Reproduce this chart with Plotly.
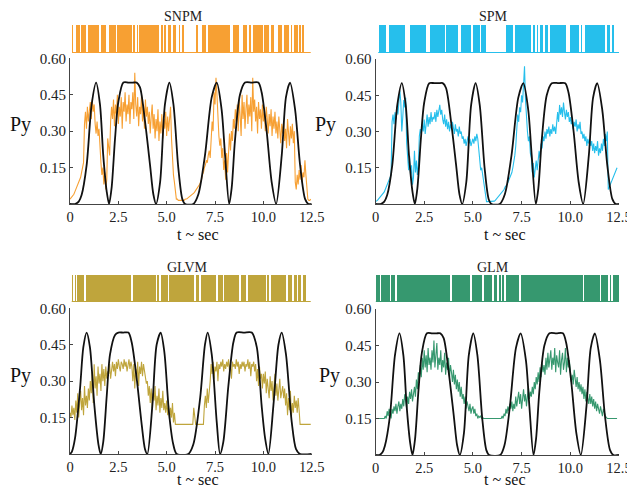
import plotly.graph_objects as go

# ---------------- data ----------------
t = [round(i * 0.05, 2) for i in range(250)]  # 0.00 .. 12.45 s

snpm = [
    0.02, 0.025, 0.03, 0.035, 0.04, 0.05, 0.06, 0.07, 0.08, 0.09, 0.10, 0.11, 0.13, 0.15, 0.17, 0.33, 0.38, 0.31, 0.40, 0.34,
    0.37, 0.42, 0.35, 0.43, 0.38, 0.41, 0.33, 0.29, 0.34, 0.28, 0.31, 0.22, 0.17, 0.12, 0.15, 0.08, 0.13, 0.06, 0.10, 0.27,
    0.24, 0.20, 0.34, 0.40, 0.35, 0.43, 0.32, 0.41, 0.37, 0.45, 0.33, 0.40, 0.36, 0.44, 0.31, 0.42, 0.38, 0.46, 0.34, 0.41,
    0.37, 0.45, 0.33, 0.42, 0.39, 0.46, 0.35, 0.54, 0.41, 0.36, 0.44, 0.32, 0.40, 0.37, 0.45, 0.34, 0.41, 0.31, 0.43, 0.36,
    0.40, 0.33, 0.38, 0.29, 0.36, 0.41, 0.31, 0.37, 0.27, 0.35, 0.30, 0.39, 0.26, 0.34, 0.29, 0.37, 0.27, 0.35, 0.31, 0.38,
    0.28, 0.36, 0.30, 0.38, 0.40, 0.27, 0.17, 0.12, 0.09, 0.05, 0.02, 0.02, 0.015, 0.015, 0.015, 0.015, 0.015, 0.015, 0.015, 0.02,
    0.02, 0.022, 0.025, 0.028, 0.03, 0.033, 0.036, 0.04, 0.045, 0.05, 0.055, 0.06, 0.068, 0.075, 0.08, 0.09, 0.10, 0.12, 0.13, 0.15,
    0.16, 0.18, 0.17, 0.20, 0.22, 0.19, 0.27, 0.34, 0.30, 0.46, 0.41, 0.52, 0.45, 0.34, 0.28, 0.24, 0.27, 0.19, 0.23, 0.14,
    0.18, 0.10, 0.21, 0.13, 0.24, 0.29, 0.22, 0.30, 0.26, 0.35, 0.31, 0.39, 0.34, 0.41, 0.30, 0.43, 0.36, 0.28, 0.45, 0.35,
    0.42, 0.31, 0.39, 0.45, 0.33, 0.41, 0.36, 0.44, 0.30, 0.52, 0.38, 0.43, 0.34, 0.40, 0.29, 0.42, 0.35, 0.39, 0.31, 0.41,
    0.34, 0.38, 0.30, 0.40, 0.35, 0.29, 0.37, 0.32, 0.39, 0.28, 0.36, 0.31, 0.38, 0.29, 0.34, 0.27, 0.36, 0.30, 0.25, 0.33,
    0.29, 0.34, 0.26, 0.31, 0.23, 0.35, 0.28, 0.24, 0.32, 0.27, 0.33, 0.25, 0.30, 0.09, 0.06, 0.12, 0.08, 0.14, 0.10, 0.16,
    0.09, 0.13, 0.11, 0.18, 0.12, 0.07, 0.02, 0.015, 0.015, 0.02,
]

spm = [
    0.01, 0.012, 0.015, 0.02, 0.025, 0.03, 0.035, 0.04, 0.045, 0.05, 0.06, 0.07, 0.08, 0.09, 0.10, 0.11, 0.12, 0.34, 0.37, 0.33,
    0.38, 0.35, 0.40, 0.37, 0.44, 0.47, 0.42, 0.30, 0.36, 0.43, 0.40, 0.44, 0.25, 0.18, 0.14, 0.20, 0.12, 0.16, 0.08, 0.11,
    0.22, 0.13, 0.18, 0.12, 0.16, 0.28, 0.31, 0.29, 0.33, 0.30, 0.35, 0.29, 0.34, 0.37, 0.32, 0.36, 0.33, 0.38, 0.34, 0.36,
    0.35, 0.38, 0.34, 0.39, 0.36, 0.40, 0.41, 0.37, 0.39, 0.35, 0.33, 0.37, 0.32, 0.35, 0.31, 0.34, 0.30, 0.33, 0.31, 0.34,
    0.32, 0.29, 0.33, 0.30, 0.31, 0.28, 0.32, 0.29, 0.30, 0.27, 0.28, 0.25, 0.27, 0.24, 0.26, 0.28, 0.25, 0.27, 0.24, 0.26,
    0.27, 0.25, 0.28, 0.26, 0.29, 0.27, 0.22, 0.17, 0.14, 0.15, 0.12, 0.08, 0.05, 0.02, 0.01, 0.01, 0.01, 0.01, 0.01, 0.01,
    0.01, 0.01, 0.012, 0.015, 0.02, 0.025, 0.03, 0.035, 0.04, 0.045, 0.05, 0.055, 0.06, 0.07, 0.075, 0.08, 0.09, 0.10, 0.11, 0.12,
    0.13, 0.15, 0.17, 0.20, 0.24, 0.32, 0.37, 0.34, 0.40, 0.38, 0.45, 0.42, 0.48, 0.57, 0.43, 0.35, 0.30, 0.26, 0.28, 0.21,
    0.19, 0.13, 0.17, 0.11, 0.15, 0.18, 0.14, 0.20, 0.22, 0.19, 0.25, 0.23, 0.28, 0.26, 0.30, 0.27, 0.31, 0.29, 0.32, 0.28,
    0.31, 0.29, 0.33, 0.30, 0.32, 0.29, 0.35, 0.38, 0.34, 0.41, 0.37, 0.40, 0.36, 0.42, 0.38, 0.35, 0.39, 0.36, 0.38, 0.34,
    0.36, 0.33, 0.35, 0.31, 0.34, 0.32, 0.35, 0.30, 0.33, 0.31, 0.34, 0.29, 0.30, 0.27, 0.29, 0.26, 0.28, 0.24, 0.27, 0.25,
    0.27, 0.24, 0.26, 0.22, 0.25, 0.21, 0.24, 0.22, 0.26, 0.20, 0.23, 0.21, 0.25, 0.22, 0.27, 0.24, 0.29, 0.26, 0.30, 0.06,
    0.07, 0.08, 0.09, 0.10, 0.11, 0.12, 0.13, 0.14, 0.15, None,
]

glvm = [
    0.17, 0.15, 0.20, 0.16, 0.19, 0.14, 0.22, 0.17, 0.25, 0.15, 0.21, 0.26, 0.18, 0.23, 0.16, 0.28, 0.20, 0.24, 0.19, 0.27,
    0.22, 0.30, 0.25, 0.34, 0.21, 0.37, 0.27, 0.32, 0.24, 0.36, 0.29, 0.33, 0.26, 0.37, 0.30, 0.35, 0.28, 0.36, 0.31, 0.34,
    0.33, 0.37, 0.31, 0.36, 0.38, 0.34, 0.37, 0.32, 0.38, 0.35, 0.39, 0.36, 0.34, 0.38, 0.37, 0.35, 0.39, 0.36, 0.38, 0.34,
    0.37, 0.39, 0.35, 0.38, 0.36, 0.30, 0.37, 0.27, 0.35, 0.31, 0.38, 0.28, 0.36, 0.33, 0.38, 0.32, 0.37, 0.34, 0.31, 0.29,
    0.30, 0.24, 0.28, 0.21, 0.27, 0.19, 0.25, 0.22, 0.28, 0.18, 0.24, 0.20, 0.27, 0.17, 0.23, 0.19, 0.26, 0.18, 0.21, 0.17,
    0.22, 0.16, 0.20, 0.14, 0.19, 0.15, 0.21, 0.13, 0.17, 0.122, 0.122, 0.122, 0.122, 0.122, 0.122, 0.122, 0.122, 0.122, 0.122, 0.122,
    0.122, 0.122, 0.122, 0.122, 0.122, 0.122, 0.122, 0.122, 0.19, 0.14, 0.122, 0.122, 0.122, 0.122, 0.122, 0.122, 0.122, 0.122, 0.122, 0.20,
    0.24, 0.19, 0.27, 0.21, 0.25, 0.30, 0.37, 0.33, 0.38, 0.31, 0.36, 0.34, 0.38, 0.30, 0.37, 0.35, 0.38, 0.36, 0.39, 0.34,
    0.37, 0.35, 0.38, 0.36, 0.39, 0.34, 0.37, 0.31, 0.38, 0.36, 0.37, 0.35, 0.39, 0.36, 0.38, 0.33, 0.37, 0.35, 0.38, 0.36,
    0.38, 0.34, 0.37, 0.36, 0.39, 0.35, 0.38, 0.32, 0.37, 0.36, 0.38, 0.34, 0.37, 0.30, 0.35, 0.28, 0.36, 0.31, 0.33, 0.27,
    0.33, 0.29, 0.34, 0.25, 0.31, 0.27, 0.23, 0.32, 0.26, 0.30, 0.22, 0.28, 0.33, 0.24, 0.29, 0.22, 0.27, 0.31, 0.23, 0.26,
    0.28, 0.23, 0.27, 0.20, 0.25, 0.16, 0.23, 0.18, 0.26, 0.15, 0.21, 0.17, 0.24, 0.19, 0.22, 0.17, 0.23, 0.18, 0.122, 0.122,
    0.122, 0.122, 0.122, 0.122, 0.122, 0.122, 0.122, 0.122, 0.122, 0.122,
]

glm = [
    0.15, 0.15, 0.15, 0.15, 0.15, 0.15, 0.15, 0.15, 0.15, 0.15, 0.16, 0.15, 0.18, 0.16, 0.19, 0.17, 0.15, 0.19, 0.17, 0.20,
    0.18, 0.21, 0.17, 0.20, 0.22, 0.18, 0.21, 0.19, 0.23, 0.20, 0.25, 0.22, 0.19, 0.24, 0.21, 0.26, 0.23, 0.27, 0.22, 0.25,
    0.28, 0.24, 0.31, 0.27, 0.34, 0.30, 0.37, 0.32, 0.40, 0.35, 0.43, 0.36, 0.41, 0.34, 0.44, 0.37, 0.40, 0.35, 0.43, 0.38,
    0.47, 0.36, 0.42, 0.46, 0.35, 0.40, 0.37, 0.43, 0.34, 0.39, 0.36, 0.42, 0.33, 0.38, 0.35, 0.40, 0.32, 0.37, 0.34, 0.30,
    0.35, 0.29, 0.33, 0.27, 0.31, 0.26, 0.30, 0.24, 0.28, 0.23, 0.25, 0.21, 0.24, 0.19, 0.22, 0.20, 0.18, 0.21, 0.17, 0.19,
    0.20, 0.17, 0.19, 0.16, 0.17, 0.15, 0.16, 0.155, 0.16, 0.15, 0.155, 0.15, 0.15, 0.15, 0.15, 0.15, 0.15, 0.15, 0.15, 0.15,
    0.15, 0.15, 0.15, 0.15, 0.15, 0.15, 0.15, 0.15, 0.15, 0.15, 0.16, 0.15, 0.17, 0.16, 0.19, 0.17, 0.20, 0.18, 0.21, 0.19,
    0.22, 0.18, 0.21, 0.19, 0.24, 0.20, 0.23, 0.26, 0.21, 0.25, 0.19, 0.24, 0.27, 0.22, 0.25, 0.20, 0.24, 0.28, 0.23, 0.26,
    0.24, 0.28, 0.25, 0.30, 0.27, 0.32, 0.29, 0.34, 0.30, 0.36, 0.32, 0.38, 0.34, 0.37, 0.33, 0.40, 0.35, 0.42, 0.36, 0.39,
    0.43, 0.35, 0.40, 0.37, 0.44, 0.34, 0.41, 0.38, 0.36, 0.43, 0.33, 0.39, 0.42, 0.35, 0.38, 0.44, 0.34, 0.40, 0.36, 0.39,
    0.34, 0.30, 0.33, 0.29, 0.35, 0.31, 0.28, 0.32, 0.27, 0.30, 0.26, 0.29, 0.25, 0.28, 0.23, 0.27, 0.22, 0.26, 0.24, 0.21,
    0.25, 0.21, 0.24, 0.20, 0.23, 0.19, 0.22, 0.18, 0.21, 0.19, 0.17, 0.20, 0.18, 0.16, 0.19, 0.17, 0.16, 0.155, 0.15, 0.15,
    0.15, 0.15, 0.15, 0.15, 0.15, 0.15, 0.15, 0.15, 0.15, None,
]

# stimulus (black) curves, key points
stim_top_t = [0, 0.26, 0.45, 0.6, 0.86, 1.12, 1.35, 1.55, 1.72, 1.9, 2.02,
              2.15, 2.33, 2.5, 2.76, 3.02, 3.25, 3.45, 3.62, 3.88, 4.14, 4.31, 4.45,
              4.66, 4.91, 5.14, 5.35, 5.6, 5.81, 5.95, 6.38,
              6.64, 6.98, 7.33, 7.59, 7.84, 8.02, 8.23,
              8.36, 8.53, 8.79, 9.05, 9.4, 9.74, 9.91, 10.17, 10.43, 10.66,
              10.95, 11.17, 11.38, 11.64, 11.9, 12.16, 12.33, 12.5]
stim_top_y = [0, 0, 0.01, 0.037, 0.16, 0.41, 0.5, 0.41, 0.2, 0.05, 0,
              0.065, 0.27, 0.42, 0.5, 0.5, 0.5, 0.5, 0.48, 0.34, 0.16, 0.04, 0,
              0.09, 0.41, 0.5, 0.41, 0.15, 0.02, 0, 0,
              0.04, 0.2, 0.44, 0.5, 0.39, 0.2, 0,
              0.065, 0.26, 0.45, 0.5, 0.5, 0.5, 0.46, 0.3, 0.09, 0,
              0.2, 0.44, 0.5, 0.39, 0.16, 0.02, 0, 0]

stim_bl_t = [0, 0.1, 0.26, 0.52, 0.69, 0.86, 1.03, 1.26, 1.47, 1.59,
             1.72, 1.9, 2.07, 2.33, 2.5, 2.75, 3.02, 3.19, 3.45, 3.71, 3.88, 4.0,
             4.26, 4.48, 4.69, 4.88, 5.12, 5.34, 5.52, 6.12,
             6.38, 6.73, 6.98, 7.12, 7.33, 7.59, 7.76,
             7.93, 8.19, 8.45, 8.62, 9.0, 9.4, 9.66, 9.91, 10.09, 10.26,
             10.52, 10.78, 10.95, 11.17, 11.47, 11.69, 11.9, 12.5]
stim_bl_y = [0, 0.01, 0.065, 0.27, 0.44, 0.5, 0.44, 0.2, 0.04, 0,
             0.05, 0.24, 0.41, 0.49, 0.5, 0.5, 0.5, 0.46, 0.31, 0.12, 0.02, 0,
             0.2, 0.45, 0.5, 0.42, 0.17, 0.04, 0, 0,
             0.04, 0.23, 0.45, 0.5, 0.41, 0.13, 0,
             0.05, 0.28, 0.46, 0.5, 0.5, 0.5, 0.44, 0.2, 0.065, 0,
             0.2, 0.45, 0.5, 0.41, 0.13, 0.02, 0, 0]

stim_br_t = [0, 0.2, 0.35, 0.48, 0.74, 1.0, 1.23, 1.43, 1.6, 1.78, 1.9,
             2.03, 2.21, 2.38, 2.64, 2.9, 3.13, 3.33, 3.5, 3.76, 4.02, 4.19, 4.33,
             4.54, 4.79, 5.02, 5.23, 5.48, 5.69, 5.83, 6.4,
             6.62, 6.9, 7.21, 7.45, 7.72, 7.9, 8.11,
             8.24, 8.41, 8.67, 8.93, 9.28, 9.62, 9.79, 10.05, 10.31, 10.54,
             10.83, 11.05, 11.26, 11.52, 11.78, 12.04, 12.21, 12.5]
stim_br_y = stim_top_y

# spike rasters: band extent, thin white gaps (centres), wide white gaps (start, end)
snpm_band = [0.12, 12.08]
snpm_thin = [0.21, 0.29, 0.55, 0.88, 1.55, 1.9, 1.98, 2.41, 3.24, 3.41, 3.54, 4.66, 4.83, 5.0, 5.26,
             7.07, 8.8, 8.88, 9.22, 9.4, 10.0, 10.34, 10.6, 10.69, 11.0, 11.38, 11.55, 11.81, 11.98]
snpm_wide_s = [5.48, 5.68, 5.9, 6.64, 8.3]
snpm_wide_e = [5.62, 5.79, 6.52, 6.81, 8.42]

spm_band = [0.14, 12.2]
spm_thin = [0.56, 0.65, 1.51, 1.59, 1.68, 2.62, 2.71, 3.56, 4.25, 4.3, 4.94, 5.37,
            7.08, 8.02, 8.23, 8.37, 8.62, 8.88, 9.82, 9.91, 10.47, 10.6, 10.68, 11.8, 12.05]
spm_wide_s = [5.66]
spm_wide_e = [6.68]

glvm_band = [0.09, 12.21]
glvm_thin = [0.21, 0.34, 0.78, 3.19, 4.48, 4.66, 5.09, 6.47, 6.73, 7.59, 7.93, 8.79, 9.14,
             10.17, 10.35, 11.21, 11.55, 11.76, 11.99]
glvm_wide_s = []
glvm_wide_e = []

glm_band = [0.01, 12.48]
glm_thin = [0.23, 0.75, 1.04, 3.85, 4.89, 5.49, 6.01, 6.27, 6.44, 6.61, 7.39, 10.66, 11.53, 11.96, 12.13]
glm_wide_s = []
glm_wide_e = []

x_ticks = [0, 2.5, 5, 7.5, 10, 12.5]
x_tick_text = ["0", "2.5", "5.0", "7.5", "10.0", "12.5"]
y_ticks = [0.15, 0.30, 0.45, 0.60]
y_tick_text = ["0.15", "0.30", "0.45", "0.60"]

# ---------------- figure ----------------
OFF = 8                      # page body margin of the browser
W, H = 635 - OFF, 489 - OFF  # figure size so that it fills the window
FONT = "Liberation Serif"
AX = "#444444"


def fx(px):
    return (px - OFF) / W


def fy(py):
    return 1 - (py - OFF) / H


panels = [
    dict(name="SNPM", color="#F7A033", data=snpm, st=stim_top_t, sy=stim_top_y,
         band=snpm_band, thin=snpm_thin, ws=snpm_wide_s, we=snpm_wide_e, base_end=12.45,
         x0=70, x1=311.7, y0=58.3, y1=204, r0=25, r1=53,
         title=(183, 16.5), py=(20, 125), tl=(198, 234)),
    dict(name="SPM", color="#26BFEC", data=spm, st=stim_top_t, sy=stim_top_y,
         band=spm_band, thin=spm_thin, ws=spm_wide_s, we=spm_wide_e, base_end=12.5,
         x0=375.5, x1=619, y0=59, y1=204, r0=25, r1=53,
         title=(493, 16.5), py=(325, 125), tl=(505, 234)),
    dict(name="GLVM", color="#BFA53C", data=glvm, st=stim_bl_t, sy=stim_bl_y,
         band=glvm_band, thin=glvm_thin, ws=glvm_wide_s, we=glvm_wide_e, base_end=12.45,
         x0=70, x1=311.7, y0=308.3, y1=454, r0=275, r1=302,
         title=(187, 267.5), py=(20, 375), tl=(198, 479)),
    dict(name="GLM", color="#36986F", data=glm, st=stim_br_t, sy=stim_br_y,
         band=glm_band, thin=glm_thin, ws=glm_wide_s, we=glm_wide_e, base_end=12.5,
         x0=375.5, x1=619, y0=309, y1=455, r0=275, r1=302,
         title=(493, 267.5), py=(329, 375), tl=(505, 479)),
]

fig = go.Figure()
layout = {}
annotations = []

for k, p in enumerate(panels):
    mi, ri = 2 * k + 1, 2 * k + 2
    mx = "x" if mi == 1 else f"x{mi}"
    my = "y" if mi == 1 else f"y{mi}"
    rx, ry = f"x{ri}", f"y{ri}"

    # raster band
    fig.add_trace(go.Bar(x=[(p["band"][0] + p["band"][1]) / 2], y=[1], width=[p["band"][1] - p["band"][0]],
                         marker=dict(color=p["color"], line=dict(width=0)), xaxis=rx, yaxis=ry,
                         showlegend=False, hoverinfo="skip"))
    gx = list(p["thin"]) + [(a + b) / 2 for a, b in zip(p["ws"], p["we"])]
    gw = [0.035] * len(p["thin"]) + [b - a for a, b in zip(p["ws"], p["we"])]
    if gx:
        fig.add_trace(go.Bar(x=gx, y=[1] * len(gx), width=gw,
                             marker=dict(color="white", line=dict(width=0)), xaxis=rx, yaxis=ry,
                             showlegend=False, hoverinfo="skip"))
    fig.add_trace(go.Scatter(x=[p["band"][0], p["base_end"]], y=[0.015, 0.015], mode="lines",
                             line=dict(color=p["color"], width=1.3), xaxis=rx, yaxis=ry,
                             showlegend=False, hoverinfo="skip"))

    # response trace
    fig.add_trace(go.Scatter(x=t, y=p["data"], mode="lines", line=dict(color=p["color"], width=1.1),
                             xaxis=mx, yaxis=my, showlegend=False, connectgaps=False))
    # stimulus curve
    fig.add_trace(go.Scatter(x=p["st"], y=p["sy"], mode="lines",
                             line=dict(color="#111111", width=1.8, shape="spline", smoothing=0.8),
                             xaxis=mx, yaxis=my, showlegend=False))

    xdom = [fx(p["x0"]), fx(p["x1"])]
    layout["xaxis" if mi == 1 else f"xaxis{mi}"] = dict(
        domain=xdom, range=[0, 12.5], anchor=my, showline=True, linecolor=AX, linewidth=1,
        ticks="inside", ticklen=3, tickcolor=AX, tickvals=x_ticks, ticktext=x_tick_text,
        showgrid=False, zeroline=False, automargin=False,
        tickfont=dict(family=FONT, size=14.5, color="#222"))
    layout["yaxis" if mi == 1 else f"yaxis{mi}"] = dict(
        domain=[fy(p["y1"]), fy(p["y0"])], range=[0, 0.6], anchor=mx, showline=True, linecolor=AX,
        linewidth=1, ticks="inside", ticklen=3, tickcolor=AX, tickvals=y_ticks, ticktext=y_tick_text,
        showgrid=False, zeroline=False, automargin=False,
        tickfont=dict(family=FONT, size=15, color="#222"))
    layout[f"xaxis{ri}"] = dict(domain=xdom, range=[0, 12.5], anchor=ry, visible=False, matches=mx,
                                automargin=False)
    layout[f"yaxis{ri}"] = dict(domain=[fy(p["r1"]), fy(p["r0"])], range=[0, 1], anchor=rx, visible=False,
                                automargin=False)

    annotations.append(dict(text=p["name"], x=fx(p["title"][0]), y=fy(p["title"][1]), xref="paper", yref="paper",
                            showarrow=False, xanchor="center", yanchor="middle",
                            font=dict(family=FONT, size=14, color="#222")))
    annotations.append(dict(text="Py", x=fx(p["py"][0]), y=fy(p["py"][1]), xref="paper", yref="paper",
                            showarrow=False, xanchor="center", yanchor="middle",
                            font=dict(family=FONT, size=20, color="#111")))
    annotations.append(dict(text="t ~ sec", x=fx(p["tl"][0]), y=fy(p["tl"][1]), xref="paper", yref="paper",
                            showarrow=False, xanchor="center", yanchor="middle",
                            font=dict(family=FONT, size=16, color="#111")))

fig.update_layout(
    template="none",
    width=W, height=H, margin=dict(l=0, r=0, t=0, b=0, pad=0),
    paper_bgcolor="white", plot_bgcolor="white", barmode="overlay", bargap=0,
    annotations=annotations, showlegend=False, **layout)

fig.write_html("out.html")
